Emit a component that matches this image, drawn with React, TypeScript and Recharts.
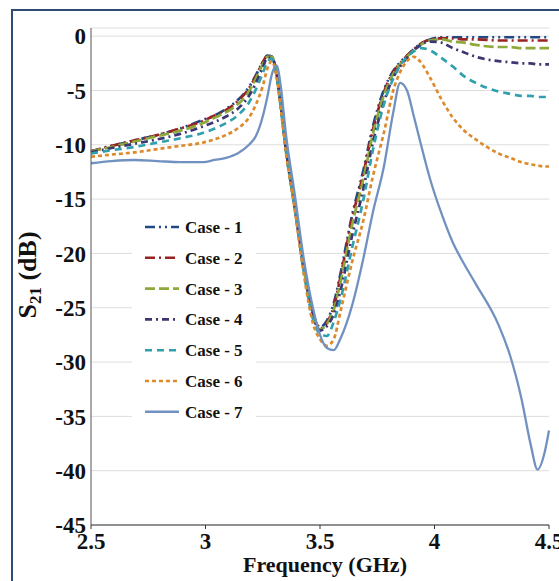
import React from "react";
import { LineChart, Line, XAxis, YAxis, CartesianGrid } from "recharts";

// frequency grid (GHz), denser around the resonances
const freqs = [
  2.5, 2.59, 2.69, 2.79, 2.89, 2.99, 3.04, 3.09, 3.14, 3.19, 3.22, 3.25, 3.27, 3.29, 3.31,
  3.33, 3.35, 3.39, 3.43, 3.47, 3.5, 3.53, 3.56, 3.59, 3.64, 3.69, 3.73, 3.78, 3.82, 3.85,
  3.88, 3.91, 3.94, 3.98, 4.03, 4.08, 4.13, 4.18, 4.28, 4.33, 4.38, 4.42, 4.45, 4.48, 4.5,
];

// S21 (dB) per case
const case1 = [
  -10.6, -10.1, -9.6, -9.1, -8.5, -7.7, -7.3, -6.7, -5.9, -4.7, -3.6, -2.4, -1.8, -1.9, -3.4,
  -6.6, -10.2, -15.7, -21.4, -25.5, -26.8, -26.2, -24.6, -21.8, -16.5, -12.3, -8.4, -4.9, -3.2, -2.4,
  -1.8, -1.2, -0.7, -0.3, -0.1, -0.1, -0.1, -0.1, -0.1, -0.1, -0.1, -0.1, -0.1, -0.1, -0.1,
];
const case2 = [
  -10.6, -10.1, -9.6, -9.1, -8.5, -7.8, -7.3, -6.8, -6.0, -4.8, -3.7, -2.4, -1.8, -1.9, -3.4,
  -6.6, -10.2, -15.7, -21.5, -25.6, -26.9, -26.4, -24.9, -22.1, -16.8, -12.6, -8.7, -5.1, -3.3, -2.5,
  -1.8, -1.2, -0.7, -0.3, -0.2, -0.2, -0.3, -0.3, -0.4, -0.4, -0.4, -0.4, -0.4, -0.4, -0.4,
];
const case3 = [
  -10.6, -10.2, -9.7, -9.2, -8.7, -8.0, -7.5, -7.0, -6.3, -5.1, -3.9, -2.6, -1.9, -1.9, -3.4,
  -6.6, -10.2, -15.7, -21.5, -25.7, -27.0, -26.5, -25.2, -22.6, -17.4, -13.1, -9.1, -5.4, -3.5, -2.6,
  -1.9, -1.3, -0.8, -0.4, -0.3, -0.5, -0.6, -0.8, -1.0, -1.0, -1.1, -1.1, -1.1, -1.1, -1.1,
];
const case4 = [
  -10.7, -10.3, -9.9, -9.5, -9.0, -8.3, -7.9, -7.4, -6.7, -5.5, -4.3, -2.9, -2.0, -2.0, -3.5,
  -6.7, -10.3, -15.8, -21.6, -25.8, -27.1, -26.7, -25.6, -23.4, -18.4, -14.0, -9.9, -6.0, -3.8, -2.8,
  -2.0, -1.3, -0.8, -0.5, -0.6, -1.1, -1.5, -1.9, -2.3, -2.4, -2.5, -2.5, -2.6, -2.6, -2.6,
];
const case5 = [
  -10.8, -10.5, -10.2, -9.8, -9.4, -8.9, -8.5, -8.0, -7.3, -6.1, -4.9, -3.4, -2.4, -2.1, -3.6,
  -6.8, -10.4, -15.9, -21.8, -26.1, -27.4, -27.6, -26.3, -24.2, -19.5, -15.0, -10.6, -6.2, -3.9, -2.7,
  -1.9, -1.4, -1.1, -1.3, -2.0, -2.8, -3.7, -4.3, -5.1, -5.3, -5.5, -5.5, -5.6, -5.6, -5.6,
];
const case6 = [
  -11.1, -10.9, -10.7, -10.4, -10.1, -9.8, -9.5, -9.1, -8.5, -7.5, -6.3, -4.6, -3.0, -2.3, -3.7,
  -6.9, -10.5, -16.0, -22.0, -26.5, -27.9, -28.5, -27.9, -25.3, -20.8, -16.9, -13.0, -8.8, -5.0, -3.3,
  -2.3, -1.9, -2.4, -3.8, -5.8, -7.5, -8.7, -9.5, -10.8, -11.2, -11.6, -11.8, -11.9, -12.0, -12.0,
];
const case7 = [
  -11.7, -11.5, -11.4, -11.5, -11.6, -11.6, -11.4, -11.2, -10.8, -10.0, -9.2, -7.4, -5.6, -3.5, -2.7,
  -4.8, -8.8, -14.6, -20.6, -25.1, -27.5, -28.7, -28.9, -27.8, -24.8, -20.4, -16.3, -11.9, -7.0, -4.3,
  -5.0, -7.4, -9.9, -13.1, -16.3, -19.0, -21.0, -22.8, -26.6, -29.4, -33.4, -37.6, -39.9, -38.4, -36.3,
];

const caseNames = ["Case - 1", "Case - 2", "Case - 3", "Case - 4", "Case - 5", "Case - 6", "Case - 7"];
const xTicks = [2.5, 3, 3.5, 4, 4.5];
const yTicks = [0, -5, -10, -15, -20, -25, -30, -35, -40, -45];

const seriesValues = [case1, case2, case3, case4, case5, case6, case7];

const lineStyles = [
  { color: "#1f4a86", dash: "10 4 2 4 2 4", width: 2.7 },
  { color: "#9a2222", dash: "10 4 2 4", width: 2.7 },
  { color: "#8ea83a", dash: "10 4", width: 2.7 },
  { color: "#3d3670", dash: "7 4 2 4", width: 2.7 },
  { color: "#31a0ae", dash: "7 5", width: 2.7 },
  { color: "#dc8a2c", dash: "4 3", width: 2.7 },
  { color: "#7191c0", dash: undefined, width: 2.3 },
];

const data = freqs.map((f, i) => {
  const row: Record<string, number> = { f };
  seriesValues.forEach((vals, k) => {
    row["c" + (k + 1)] = vals[i];
  });
  return row;
});

const FONT = "'Liberation Serif', 'Times New Roman', serif";

function ChartLegend() {
  const rowH = 30.8;
  return (
    <svg
      width={124}
      height={220}
      style={{ position: "absolute", left: 132, top: 208, background: "#fff" }}
    >
      {caseNames.map((name, i) => {
        const y = 19 + i * rowH;
        const st = lineStyles[i];
        return (
          <g key={name}>
            <line
              x1={13}
              x2={47}
              y1={y}
              y2={y}
              stroke={st.color}
              strokeWidth={2.6}
              strokeDasharray={st.dash}
            />
            <text
              x={53}
              y={y + 6}
              fontFamily={FONT}
              fontWeight="bold"
              fontSize={17}
              fill="#111"
            >
              {name}
            </text>
          </g>
        );
      })}
    </svg>
  );
}

export default function App() {
  return (
    <div
      style={{
        position: "relative",
        width: 559,
        height: 581,
        overflow: "hidden",
        background: "#fff",
      }}
    >
      <style>{`body{margin:0}`}</style>
      <div
        style={{
          position: "absolute",
          left: 11,
          top: 9,
          width: 640,
          height: 640,
          border: "2.5px solid #2d4b73",
        }}
      />
      <div style={{ position: "absolute", left: 0, top: 0 }}>
        <LineChart
          width={559}
          height={581}
          data={data}
          margin={{ top: 28, right: 10, bottom: 0, left: 0 }}
        >
          <CartesianGrid vertical={false} stroke="#dddddd" strokeWidth={1} />
          <XAxis
            dataKey="f"
            type="number"
            domain={[2.5, 4.5]}
            ticks={xTicks}
            interval={0}
            height={56}
            tickSize={4}
            tickMargin={4}
            stroke="#333"
            tick={{ fill: "#111", fontFamily: FONT, fontWeight: "bold", fontSize: 23 }}
            label={{
              content: () => (
                <text
                  x={325}
                  y={572}
                  textAnchor="middle"
                  fontFamily={FONT}
                  fontWeight="bold"
                  fontSize={22}
                  fill="#111"
                >
                  Frequency (GHz)
                </text>
              ),
            }}
          />
          <YAxis
            type="number"
            domain={[-45, 0.75]}
            ticks={yTicks}
            interval={0}
            width={91}
            tickLine={false}
            tickSize={0}
            tickMargin={5}
            stroke="#555"
            tick={{ fill: "#111", fontFamily: FONT, fontWeight: "bold", fontSize: 23 }}
            label={{
              content: () => (
                <text
                  transform="translate(36,275) rotate(-90)"
                  textAnchor="middle"
                  fontFamily={FONT}
                  fontWeight="bold"
                  fontSize={26}
                  fill="#111"
                >
                  S
                  <tspan fontSize={17} dy={5}>
                    21
                  </tspan>
                  <tspan dy={-5}> (dB)</tspan>
                </text>
              ),
            }}
          />
          {lineStyles.map((st, k) => (
            <Line
              key={k}
              dataKey={"c" + (k + 1)}
              name={caseNames[k]}
              type="monotone"
              stroke={st.color}
              strokeWidth={st.width}
              strokeDasharray={st.dash}
              dot={false}
              activeDot={false}
              isAnimationActive={false}
            />
          ))}
        </LineChart>
      </div>
      <ChartLegend />
    </div>
  );
}
